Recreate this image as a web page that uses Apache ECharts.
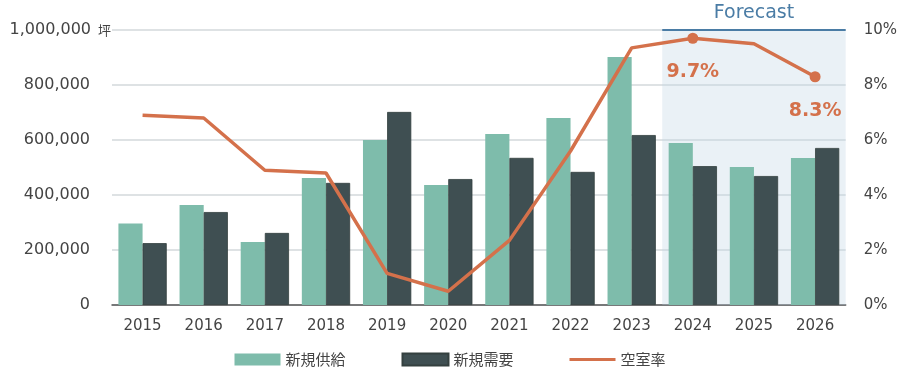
<!DOCTYPE html>
<html>
<head>
<meta charset="utf-8">
<script src="https://cdn.jsdelivr.net/npm/echarts@6/dist/echarts.min.js"></script>
<style>
  html, body { margin: 0; padding: 0; background: #fff; }
  #main { width: 900px; height: 378px; }
</style>
</head>
<body>
<div id="main"></div>
<script>
var years = ['2015','2016','2017','2018','2019','2020','2021','2022','2023','2024','2025','2026'];
var supply = [296000, 364000, 229000, 462000, 600000, 436000, 622000, 680000, 902000, 589000, 502000, 535000];
var demand = [225000, 338000, 262000, 444000, 702000, 458000, 535000, 484000, 618000, 505000, 469000, 571000];
var vacancy = [6.9, 6.8, 4.9, 4.8, 1.15, 0.5, 2.35, 5.6, 9.35, 9.7, 9.5, 8.3];
var labeledYears = ['2024', '2026'];
var forecastFrom = '2024';

var font = "'DejaVu Sans', 'Noto Sans CJK JP', sans-serif";
var myChart = echarts.init(document.getElementById('main'));

var vacancyData = vacancy.map(function (v, i) {
  if (labeledYears.indexOf(years[i]) >= 0) {
    return { value: v, symbol: 'circle', symbolSize: 11, label: { show: true } };
  }
  return v;
});
var fStart = years.indexOf(forecastFrom) - 0.5;
var fEnd = years.length - 0.5;

var option = {
  textStyle: { fontFamily: font },
  grid: { left: 112, right: 52, top: 30, bottom: 73 },
  legend: {
    bottom: 6,
    left: 'center',
    itemWidth: 46,
    itemHeight: 12,
    itemGap: 56,
    textStyle: { fontSize: 15, color: '#444', fontFamily: "'Noto Sans CJK JP', sans-serif" },
    data: [
      { name: '新規供給', icon: 'rect' },
      { name: '新規需要', icon: 'rect' },
      { name: '空室率', icon: 'path://M0,0H46V3H0Z' }
    ]
  },
  xAxis: [{
    type: 'category',
    data: years,
    axisTick: { show: false },
    axisLine: { lineStyle: { color: '#555', width: 1.5 } },
    axisLabel: { color: '#444', fontSize: 15, margin: 14 }
  }, {
    type: 'value', min: -0.5, max: 11.5, show: false
  }],
  yAxis: [{
    type: 'value',
    min: 0, max: 1000000, interval: 200000,
    axisLine: { show: false },
    axisTick: { show: false },
    splitLine: { lineStyle: { color: '#d3d8db', width: 1.5 } },
    axisLabel: {
      color: '#444', fontSize: 16, margin: 1,
      formatter: function (v) {
        var s = v.toLocaleString('en-US');
        return v === 1000000 ? '{v|' + s + '}{u|坪}' : '{p|' + s + '}';
      },
      rich: {
        v: { fontSize: 16, color: '#444', fontFamily: font },
        p: { fontSize: 16, color: '#444', fontFamily: font, padding: [0, 21, 0, 0] },
        u: { fontSize: 13, color: '#444', fontFamily: "'Noto Sans CJK JP', sans-serif", padding: [0, 0, 0, 7] }
      }
    }
  }, {
    type: 'value',
    min: 0, max: 10, interval: 2,
    axisLine: { show: false },
    axisTick: { show: false },
    splitLine: { show: false },
    axisLabel: { color: '#444', fontSize: 15, margin: 18, formatter: '{value}%' }
  }],
  series: [{
    name: 'forecast',
    type: 'line',
    xAxisIndex: 1,
    yAxisIndex: 0,
    data: [],
    z: 1,
    silent: true,
    markArea: {
      silent: true,
      itemStyle: { color: 'rgba(190,212,226,0.32)' },
      label: { show: true, position: 'top', distance: 7, color: '#4a7ca5', fontSize: 19, fontFamily: font },
      data: [[{ name: 'Forecast', coord: [fStart, 1000000] }, { coord: [fEnd, 0] }]]
    },
    markLine: {
      silent: true,
      symbol: 'none',
      label: { show: false },
      lineStyle: { color: '#4a7ca5', width: 1.8, type: 'solid' },
      data: [[{ coord: [fStart, 1000000] }, { coord: [fEnd, 1000000] }]]
    }
  }, {
    name: '新規供給',
    type: 'bar',
    data: supply,
    barGap: '0%',
    barCategoryGap: '21%',
    itemStyle: { color: '#7ebcab' }
  }, {
    name: '新規需要',
    type: 'bar',
    data: demand,
    itemStyle: { color: '#3f4f52', borderColor: '#34403f', borderWidth: 0.8 }
  }, {
    name: '空室率',
    type: 'line',
    yAxisIndex: 1,
    data: vacancyData,
    symbol: 'none',
    z: 5,
    lineStyle: { color: '#d4714b', width: 3.5 },
    itemStyle: { color: '#d4714b' },
    label: {
      show: false, position: 'bottom', distance: 19,
      color: '#d4714b', fontSize: 19, fontWeight: 'bold', fontFamily: font,
      formatter: '{c}%'
    }
  }]
};

myChart.setOption(option);
</script>
</body>
</html>
